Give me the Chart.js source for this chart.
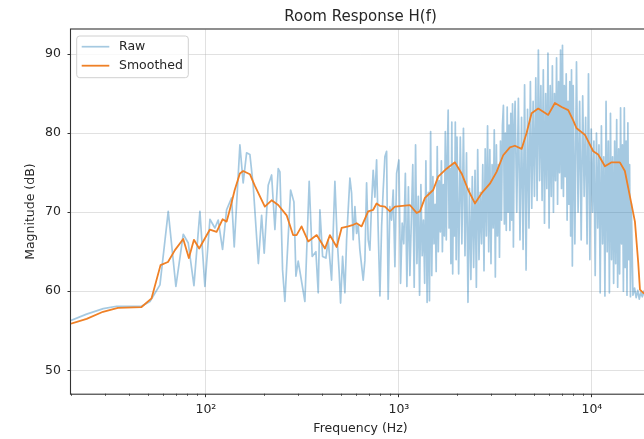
<!DOCTYPE html>
<html><head><meta charset="utf-8">
<script src="https://cdn.jsdelivr.net/npm/chart.js@4.4.1/dist/chart.umd.min.js"></script>
<style>
html,body{margin:0;padding:0;background:#fff;overflow:hidden;width:644px;height:439px}
#wrap{position:relative;width:660px;height:439px}
</style>
</head><body><div id="wrap"><canvas id="c" width="660" height="439"></canvas></div>
<script>
const titleText = 'Room Response H(f)';
const xTitle = 'Frequency (Hz)';
const yTitle = 'Magnitude (dB)';
const seriesLabels = ['Raw', 'Smoothed'];

const xMajorTicks = [100, 1000, 10000];
const xTickLabels = ['10²', '10³', '10⁴'];
const xMinorTicks = [20, 30, 40, 50, 60, 70, 80, 90, 200, 300, 400, 500, 600, 700, 800, 900,
  2000, 3000, 4000, 5000, 6000, 7000, 8000, 9000, 20000];
const yTicks = [50, 60, 70, 80, 90];

// Raw response, 20 Hz – 1 kHz
const rawFreqLow = [
  20, 24.1, 29.4, 34.5, 46.4, 51.3, 57.8, 63.8, 69.9, 76.3,
  81.0, 86.7, 93.1, 98.8, 104.9, 111.3, 115.8, 122, 128, 135.9,
  140.2, 150, 156, 162.5, 169, 175.8, 187, 194.4, 200.5, 210.3,
  219, 227.8, 237, 241.8, 249.6, 256.6, 274.7, 285.8, 292.7, 300.8,
  325.8, 342.9, 355.4, 371.5, 381.9,
  389.7, 402.4, 418.5, 430.1, 447.9, 466.0, 478.9, 490.5, 498.7, 510.8,
  525.0, 535.8, 557.3, 568.7, 579.7, 591.6, 603.7, 615.3, 627.9, 653.1,
  666.5, 680.1, 693.2, 707.4, 721.9, 735.8, 750.9, 766.4, 781.1, 797.4,
  813.7, 829.1, 846.1, 863.5, 880.0, 898.0, 916.6, 934.3, 953.4, 973.0
];
const rawDbLow = [
  56.3, 57.1, 57.8, 58.1, 58.1, 58.7, 60.8, 70.1, 60.6, 67.2,
  66.1, 60.7, 70.1, 60.6, 69.1, 68.0, 69.0, 65.3, 70.3, 71.8,
  65.6, 78.5, 73.7, 77.5, 77.3, 73.4, 63.5, 69.6, 64.8, 73.4,
  74.7, 67.8, 75.5, 75.1, 62.7, 58.7, 72.8, 71.3, 61.9, 63.8,
  58.7, 73.9, 64.4, 65.0, 59.8,
  70.3, 64.4, 64.2, 66.5, 61.4, 73.9, 66.5, 62.3, 58.5, 64.4,
  59.8, 66.5, 74.3, 72.4, 66.5, 70.7, 67.3, 68.4, 65.2, 61.4,
  63.9, 73.7, 66.5, 65.2, 71.1, 75.3, 71.9, 76.6, 67.7, 59.4,
  68.2, 72.8, 77.0, 77.7, 59.0, 70.7, 69.0, 72.8, 63.1, 74.9
];
// Raw response, 1 – 2 kHz
const rawFreq1k = [
  1000, 1020, 1040, 1060, 1080, 1100, 1120, 1140, 1160, 1180, 1200, 1220, 1240, 1260, 1280, 1300, 1320,
  1340, 1360, 1380, 1400, 1420, 1440, 1460, 1480, 1500, 1520, 1540, 1560, 1580, 1600, 1620, 1640, 1660,
  1680, 1700, 1720, 1740, 1760, 1780, 1800, 1820, 1840, 1860, 1880, 1900, 1920, 1940, 1960, 1980
];
const rawDb1k = [
  76.6, 61.0, 68.6, 66.0, 74.9, 60.6, 73.2, 62.0, 69.0, 76.0,
  60.5, 78.5, 63.5, 72.0, 59.5, 73.5, 64.5, 69.0, 61.0, 76.5,
  58.6, 72.5, 58.8, 80.2, 62.0, 74.5, 66.0, 71.0, 62.5, 78.3,
  65.0, 74.0, 67.5, 76.5, 65.0, 73.5, 67.0, 80.2, 66.5, 77.0,
  82.9, 68.0, 75.5, 63.5, 81.4, 62.2, 76.0, 67.0, 81.4, 64.0
];
// Raw response, 2 – 4 kHz
const rawFreq2k = [
  2000, 2040, 2080, 2120, 2160, 2200, 2240, 2280, 2320, 2360, 2400, 2440, 2480, 2520, 2560, 2600, 2640,
  2680, 2720, 2760, 2800, 2840, 2880, 2920, 2960, 3000, 3040, 3080, 3120, 3160, 3200, 3240, 3280, 3320,
  3360, 3400, 3440, 3480, 3520, 3560, 3600, 3640, 3680, 3720, 3760, 3800, 3840, 3880, 3920, 3960
];
const rawDb2k = [
  79.5, 62.2, 79.5, 66.0, 80.6, 64.5, 77.5, 58.6, 73.0, 61.5,
  74.5, 63.0, 75.3, 60.5, 77.9, 64.0, 72.5, 66.0, 76.0, 62.6,
  78.0, 67.0, 80.9, 65.0, 77.9, 63.5, 76.0, 68.0, 80.4, 61.8,
  78.5, 67.0, 76.0, 64.3, 79.0, 69.0, 81.0, 83.5, 68.5, 80.0,
  67.7, 83.3, 70.0, 81.0, 67.7, 82.5, 69.0, 83.7, 65.6, 80.5
];
// Raw response, 4 – 8 kHz
const rawFreq4k = [
  4000, 4080, 4160, 4240, 4320, 4400, 4480, 4560, 4640, 4720, 4800, 4880, 4960, 5040, 5120, 5200, 5280,
  5360, 5440, 5520, 5600, 5680, 5760, 5840, 5920, 6000, 6080, 6160, 6240, 6320, 6400, 6480, 6560, 6640,
  6720, 6800, 6880, 6960, 7040, 7120, 7200, 7280, 7360, 7440, 7520, 7600, 7680, 7760, 7840, 7920
];
const rawDb4k = [
  84.0, 70.0, 84.4, 66.5, 82.0, 65.3, 86.1, 62.7, 83.0, 68.0,
  86.5, 70.5, 84.0, 72.0, 87.0, 71.5, 90.5, 74.0, 86.0, 71.5,
  88.0, 68.6, 85.0, 73.0, 90.1, 68.0, 86.0, 72.0, 88.5, 70.0,
  85.0, 74.0, 89.5, 71.0, 86.5, 75.0, 90.5, 73.0, 91.1, 72.0,
  86.0, 74.5, 87.5, 69.0, 84.0, 71.0, 86.5, 67.0, 88.0, 63.2
];
// Raw response, 8 – 16 kHz
const rawFreq8k = [
  8000, 8160, 8320, 8480, 8640, 8800, 8960, 9120, 9280, 9440, 9600, 9760, 9920, 10080, 10240, 10400,
  10560, 10720, 10880, 11040, 11200, 11360, 11520, 11680, 11840, 12000, 12160, 12320, 12480, 12640,
  12800, 12960, 13120, 13280, 13440, 13600, 13760, 13920, 14080, 14240, 14400, 14560, 14720, 14880,
  15040, 15200, 15360, 15520, 15680, 15840
];
const rawDb8k = [
  86.0, 66.0, 89.0, 70.0, 84.0, 66.5, 84.7, 72.0, 82.0, 66.0,
  87.5, 64.0, 80.5, 70.0, 79.0, 62.0, 80.0, 68.0, 78.5, 59.8,
  80.9, 66.0, 77.0, 59.4, 84.0, 65.0, 79.0, 59.8, 82.5, 64.0,
  77.0, 61.0, 79.0, 63.5, 81.7, 60.5, 78.0, 62.2, 83.2, 66.0,
  78.5, 60.0, 83.2, 63.0, 79.0, 59.5, 81.3, 64.0, 76.0, 59.3
];
// Raw response, 16 – 20 kHz
const rawFreq16k = [16000, 16320, 16640, 16960, 17280, 17600, 17920, 18240, 18560, 18880, 19200, 19520, 19840, 20000];
const rawDb16k = [71.1, 59.5, 60.4, 59.2, 60.1, 59.0, 59.9, 59.3, 60.0, 59.2, 59.8, 59.4, 59.9, 59.5];

const smoothFreq = [
  20, 24.1, 29.3, 35, 46.4, 52.3, 58.2, 63.6, 69.1, 76.3,
  81.6, 86.7, 92.3, 104.9, 113.6, 122, 128, 133, 141, 150,
  156, 169, 179, 187, 202, 219, 237, 262, 283, 295,
  313, 339, 375, 414, 439, 476, 505, 546, 580, 604,
  641, 693, 736, 766, 797, 846, 898, 954, 1140, 1235,
  1285, 1364, 1506, 1598, 1766, 1950, 2113, 2287, 2477, 2683,
  2961, 3208, 3470, 3760, 3990, 4323, 4588, 4870, 5270, 5595,
  5940, 6430, 6970, 7540, 8000, 8330, 9190, 10160, 10780, 11680,
  12650, 13960, 14820, 15740, 16710, 17380, 17740, 18450, 20000
];
const smoothDb = [
  55.9, 56.5, 57.4, 57.9, 58.0, 59.1, 63.3, 63.7, 65.2, 66.6,
  64.2, 66.5, 65.4, 67.8, 67.5, 69.1, 68.8, 70.3, 72.8, 74.9,
  75.2, 74.8, 73.4, 72.4, 70.7, 71.5, 70.9, 69.6, 67.1, 67.1,
  68.2, 66.3, 67.1, 65.4, 67.1, 65.6, 68.0, 68.2, 68.4, 68.6,
  68.2, 70.1, 70.3, 71.1, 70.8, 70.7, 70.1, 70.7, 70.9, 69.9,
  70.1, 71.8, 72.8, 74.5, 75.5, 76.3, 74.9, 72.8, 71.1, 72.4,
  73.6, 75.1, 77.2, 78.2, 78.4, 78.0, 80.0, 82.5, 83.1, 82.7,
  82.3, 83.8, 83.3, 82.9, 81.6, 80.6, 79.8, 77.7, 77.3, 75.8,
  76.3, 76.3, 75.2, 72.0, 68.8, 63.6, 60.2, 59.8, 59.5
];

const FONT = 'DejaVu Sans';
const TEXT = '#262626';
const SPINE = '#333333';
const GRID = 'rgba(176,176,176,0.38)';
const RAW_COLOR = 'rgba(31,119,180,0.4)';
const SMOOTH_COLOR = '#ef8026';

const rawFreq = [].concat(rawFreqLow, rawFreq1k, rawFreq2k, rawFreq4k, rawFreq8k, rawFreq16k);
const rawDb = [].concat(rawDbLow, rawDb1k, rawDb2k, rawDb4k, rawDb8k, rawDb16k);
const toXY = (xs, ys) => xs.map((x, i) => ({x: x, y: ys[i]}));

const framePlugin = {
  id: 'frame',
  afterDatasetsDraw(chart) {
    const {ctx, chartArea: a, scales} = chart;
    ctx.save();
    ctx.strokeStyle = SPINE;
    ctx.lineWidth = 0.8;
    xMinorTicks.forEach(v => {
      const px = Math.round(scales.x.getPixelForValue(v)) + 0.5;
      if (px < a.left - 1 || px > a.right + 1) return;
      ctx.beginPath();
      ctx.moveTo(px, a.bottom);
      ctx.lineTo(px, a.bottom + 2.2);
      ctx.stroke();
    });
    ctx.lineWidth = 1.1;
    ctx.strokeStyle = SPINE;
    ctx.strokeRect(a.left - 0.5, a.top - 0.5, a.right - a.left + 1, a.bottom - a.top + 1);
    ctx.restore();
  },
  afterDraw(chart) {
    const {ctx, chartArea: a} = chart;
    const x0 = a.left + 5.7, y0 = a.top + 6.5, w = 111.6, h = 41.7, r = 3;
    ctx.save();
    ctx.beginPath();
    ctx.moveTo(x0 + r, y0);
    ctx.lineTo(x0 + w - r, y0);
    ctx.quadraticCurveTo(x0 + w, y0, x0 + w, y0 + r);
    ctx.lineTo(x0 + w, y0 + h - r);
    ctx.quadraticCurveTo(x0 + w, y0 + h, x0 + w - r, y0 + h);
    ctx.lineTo(x0 + r, y0 + h);
    ctx.quadraticCurveTo(x0, y0 + h, x0, y0 + h - r);
    ctx.lineTo(x0, y0 + r);
    ctx.quadraticCurveTo(x0, y0, x0 + r, y0);
    ctx.closePath();
    ctx.fillStyle = 'rgba(255,255,255,0.8)';
    ctx.fill();
    ctx.strokeStyle = '#d0d0d0';
    ctx.lineWidth = 1;
    ctx.stroke();
    chart.data.datasets.forEach((ds, i) => {
      const yy = y0 + 10.7 + i * 19;
      ctx.beginPath();
      ctx.strokeStyle = ds.borderColor;
      ctx.lineWidth = ds.borderWidth;
      ctx.moveTo(x0 + 5, yy);
      ctx.lineTo(x0 + 32.6, yy);
      ctx.stroke();
      ctx.fillStyle = TEXT;
      ctx.font = '12.5px "' + FONT + '"';
      ctx.textBaseline = 'middle';
      ctx.textAlign = 'left';
      ctx.fillText(ds.label, x0 + 42.3, yy);
    });
    ctx.restore();
  }
};

new Chart(document.getElementById('c'), {
  type: 'line',
  data: {
    datasets: [
      {label: seriesLabels[0], data: toXY(rawFreq, rawDb), borderColor: RAW_COLOR, borderWidth: 1.7,
       pointRadius: 0, tension: 0, fill: false, order: 2, borderJoinStyle: 'round'},
      {label: seriesLabels[1], data: toXY(smoothFreq, smoothDb), borderColor: SMOOTH_COLOR, borderWidth: 1.8,
       pointRadius: 0, tension: 0, fill: false, order: 1, borderJoinStyle: 'round'}
    ]
  },
  options: {
    responsive: false,
    animation: false,
    devicePixelRatio: 1,
    layout: {padding: {left: 0, right: 10, top: 0, bottom: 0}},
    plugins: {
      legend: {display: false},
      tooltip: {enabled: false},
      title: {display: true, text: titleText, color: TEXT, fullSize: false,
        font: {family: FONT, size: 15, weight: 'normal', lineHeight: 1.2},
        padding: {top: 8.2, bottom: 3.3}}
    },
    scales: {
      x: {
        type: 'logarithmic', min: 20, max: 20000,
        afterBuildTicks: s => {
          const all = xMinorTicks.concat(xMajorTicks).sort((a, b) => a - b);
          s.ticks = all.map(v => ({value: v, major: xMajorTicks.indexOf(v) >= 0}));
        },
        afterFit: s => { s.height = 45.3; },
        ticks: {
          autoSkip: false, maxRotation: 0, minRotation: 0, padding: 5, color: TEXT,
          font: {family: FONT, size: 12.5, lineHeight: 1.2},
          callback: v => { const i = xMajorTicks.indexOf(v); return i >= 0 ? xTickLabels[i] : ''; }
        },
        grid: {
          color: c => (c.tick && xMajorTicks.indexOf(c.tick.value) >= 0) ? GRID : 'rgba(0,0,0,0)',
          tickColor: c => (c.tick && xMajorTicks.indexOf(c.tick.value) >= 0) ? SPINE : 'rgba(0,0,0,0)',
          tickLength: 3.5, lineWidth: 1, tickWidth: 1
        },
        border: {display: false},
        title: {display: true, text: xTitle, color: TEXT,
          font: {family: FONT, size: 12.5, lineHeight: 1.2}, padding: {top: 0, bottom: 3.2}}
      },
      y: {
        type: 'linear', min: 47.04, max: 93.1,
        afterBuildTicks: s => { s.ticks = yTicks.map(v => ({value: v})); },
        afterFit: s => { s.width = 71; },
        ticks: {padding: 6.5, color: TEXT, font: {family: FONT, size: 12.5, lineHeight: 1.2},
          callback: v => String(v)},
        grid: {color: GRID, tickColor: SPINE, tickLength: 3.5, lineWidth: 1, tickWidth: 1},
        border: {display: false},
        title: {display: true, text: yTitle, color: TEXT,
          font: {family: FONT, size: 12.5, lineHeight: 1.2}, padding: {top: 23.3, bottom: 0}}
      }
    }
  },
  plugins: [framePlugin]
});
</script>
</body></html>
